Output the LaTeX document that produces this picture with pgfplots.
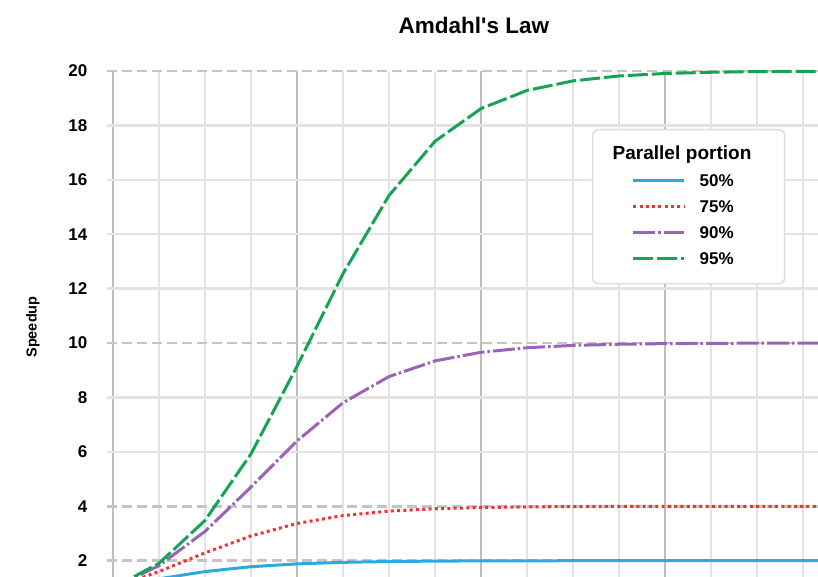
\documentclass[border=0pt]{standalone}
\usepackage{fontspec}
\setmainfont{Liberation Sans}[Ligatures=TeXOff]
\usepackage{pgfplots}
\pgfplotsset{compat=1.18}
\definecolor{cblue}{HTML}{2CA9E1}
\definecolor{cred}{HTML}{EE3333}
\definecolor{cpurple}{HTML}{9A64B6}
\definecolor{cgreen}{HTML}{17A356}
\definecolor{glight}{HTML}{E3E3E3}
\definecolor{gdark}{HTML}{BDBDBD}
\definecolor{gdash}{HTML}{C4C4C4}
\definecolor{cborder}{HTML}{DDDDDD}
\begin{document}
\begin{tikzpicture}
\useasboundingbox (-107bp,0) rectangle (711bp,577bp);
\clip (-107bp,0) rectangle (711bp,577bp);
% x = log2(number of processors): 0 -> 1, 1 -> 2, ..., 16 -> 65536
\begin{axis}[
  scale only axis, width=711bp, height=506bp,
  xmin=-0.1304, xmax=15.326,
  ymin=1.40, ymax=20,
  clip=false,
  axis line style={draw=none},
  major tick length=0pt, minor tick length=0pt,
  tick style={draw=none},
  xtick={0,4,8,12,16},
  minor xtick={1,2,3,5,6,7,9,10,11,13,14,15},
  xticklabel=\empty,
  xmajorgrids=true, xminorgrids=true,
  major grid style={color=gdark, line width=2.5bp},
  minor grid style={color=glight, line width=2.5bp},
  ytick={6,8,12,14,16,18},
  minor ytick={6,8,12,14,16,18},
  ymajorgrids=false, yminorgrids=true,
  extra y ticks={2,4,10,20},
  extra y tick style={ymajorgrids=true, major grid style={color=gdash, line width=2.5bp, dash pattern=on 10bp off 5bp}},
  /pgf/number format/assume math mode=true,
  yticklabel style={font=\fontsize{17bp}{20bp}\selectfont\bfseries, anchor=east, inner sep=0pt, xshift=-19.5bp},
  title={Amdahl's Law},
  title style={at={(axis description cs:0.516,1)}, anchor=base, yshift=31.7bp, font=\fontsize{22.5bp}{27bp}\selectfont\bfseries},
  ylabel={Speedup},
  ylabel style={at={(axis description cs:-0.0989,0.494)}, anchor=base, font=\fontsize{14.5bp}{17bp}\selectfont\bfseries},
  legend style={at={(rel axis cs:0.6821,0.8854)}, anchor=north west, draw=cborder, line width=1.5bp, rounded corners=6bp, fill=white, inner xsep=39bp, inner ysep=12bp, column sep=14bp, row sep=0pt,
    nodes={font=\fontsize{17bp}{20bp}\selectfont\bfseries, inner sep=0pt, text depth=0pt, minimum height=26bp, text width=46bp, align=left},
    cells={anchor=center}},
  legend image code/.code={\draw (0bp,0bp) -- (51bp,0bp);},
]
\addlegendimage{empty legend}
\addlegendentry{\rlap{\hspace*{-87bp}\raisebox{5bp}{\fontsize{19bp}{23bp}\selectfont Parallel portion}}}

\addplot[cblue, line width=3bp, line join=round] coordinates {
(0,1) (1,1.333) (2,1.6) (3,1.778) (4,1.882) (5,1.939) (6,1.969) (7,1.984) (8,1.992) (9,1.996) (10,1.998) (11,1.999) (12,2.0) (13,2.0) (14,2.0) (15,2.0) (16,2.0)};
\addlegendentry{50\%}

\addplot[cred, line width=3bp, line join=round, dash pattern=on 3bp off 3.3bp] coordinates {
(0,1) (1,1.6) (2,2.286) (3,2.909) (4,3.368) (5,3.657) (6,3.821) (7,3.908) (8,3.954) (9,3.977) (10,3.988) (11,3.994) (12,3.997) (13,3.999) (14,3.999) (15,4.0) (16,4.0)};
\addlegendentry{75\%}

\addplot[cpurple, line width=3bp, line join=round, dash pattern=on 22bp off 3bp on 2.5bp off 3bp] coordinates {
(0,1) (1,1.818) (2,3.077) (3,4.706) (4,6.4) (5,7.805) (6,8.767) (7,9.343) (8,9.660) (9,9.827) (10,9.913) (11,9.956) (12,9.978) (13,9.989) (14,9.995) (15,9.997) (16,9.999)};
\addlegendentry{90\%}

\addplot[cgreen, line width=3bp, line join=round, dash pattern=on 20bp off 4bp] coordinates {
(0,1) (1,1.905) (2,3.478) (3,5.926) (4,9.143) (5,12.549) (6,15.422) (7,17.415) (8,18.618) (9,19.284) (10,19.636) (11,19.817) (12,19.908) (13,19.954) (14,19.977) (15,19.989) (16,19.994)};
\addlegendentry{95\%}
\end{axis}
\end{tikzpicture}
\end{document}
